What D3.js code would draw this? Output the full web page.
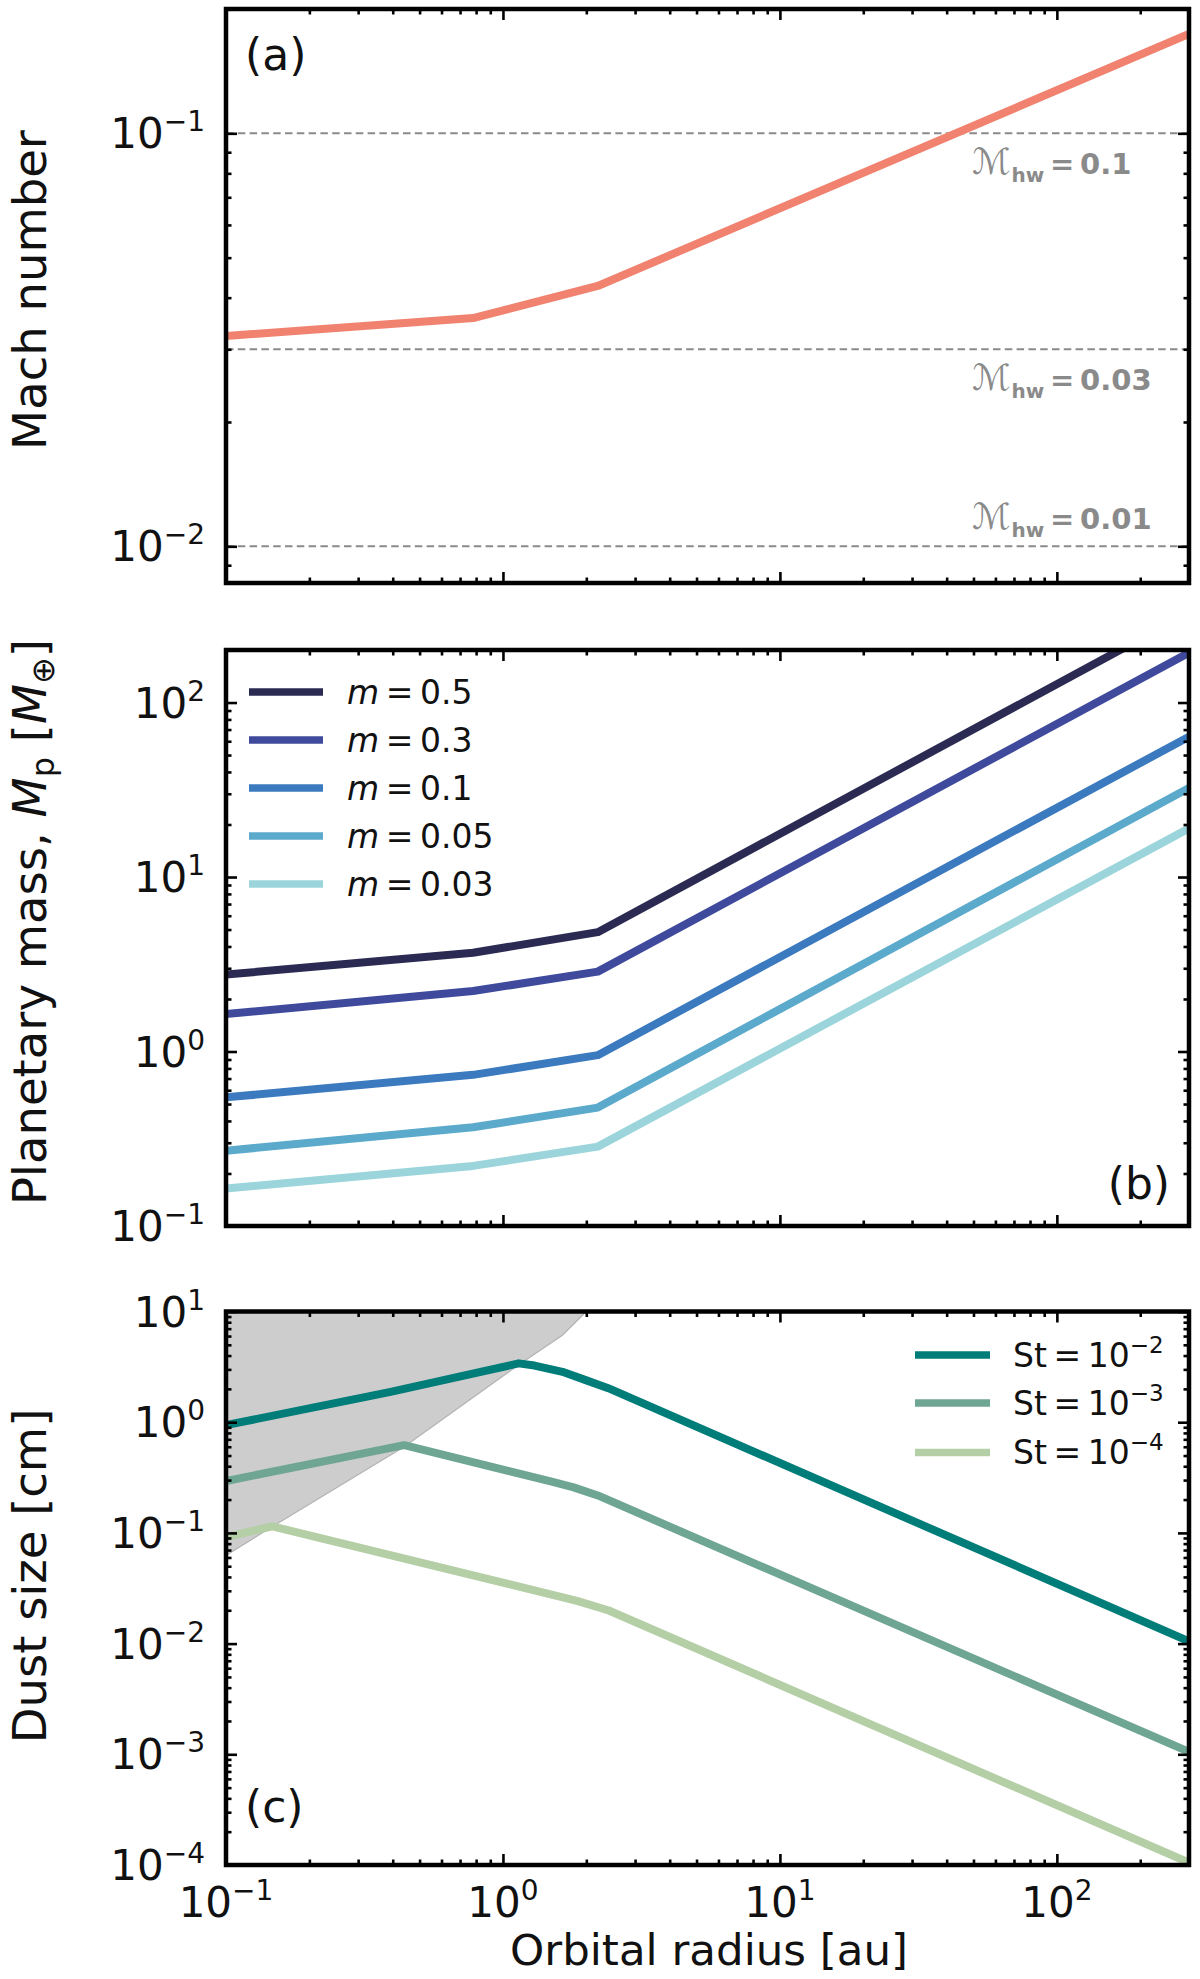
<!DOCTYPE html>
<html><head><meta charset="utf-8">
<script src="https://cdn.jsdelivr.net/npm/d3@7"></script>
<style>
body{margin:0;background:#fff}
svg{display:block}
text{font-family:"DejaVu Sans",sans-serif}
</style>
</head><body>
<svg id="chart" width="1200" height="1979"></svg>
<script>
// ---------------- data ----------------
const radiusBreaks = [0.1, 0.78, 2.2, 300];
const machValues   = [0.0323, 0.0357, 0.0427, 0.174];
const hwLevels = [0.1, 0.03, 0.01];
const hwLabels = ["0.1", "0.03", "0.01"];

const massLabels = ["0.5", "0.3", "0.1", "0.05", "0.03"];
const massM050 = [2.76, 3.68, 4.83, 327];
const massM030 = [1.64, 2.22, 2.87, 193];
const massM010 = [0.546, 0.735, 0.953, 63.7];
const massM005 = [0.270, 0.368, 0.477, 32.4];
const massM003 = [0.164, 0.221, 0.285, 19.0];
const massColors = ["#2b2a52", "#3f4a9c", "#3b7abf", "#5ba9cb", "#9bd5db"];

const dustExps = ["−2", "−3", "−4"];
const dustR1 = [0.1, 0.393, 1.14, 1.3, 1.64, 1.99, 2.4, 300];
const dustV1 = [0.94, 1.88, 3.40, 3.25, 2.85, 2.40, 2.03, 0.0105];
const dustR2 = [0.1, 0.44, 1.5, 1.8, 2.2, 300];
const dustV2 = [0.294, 0.62, 0.29, 0.258, 0.218, 0.00105];
const dustR3 = [0.1, 0.147, 1.5, 1.85, 2.41, 300];
const dustV3 = [0.0917, 0.1146, 0.0277, 0.0243, 0.0199, 0.000105];
const dustColors = ["#007c79", "#6fa593", "#b4cea6"];
const regimeR = [0.1, 0.147, 0.44, 1.14, 1.64, 2.0];
const regimeV = [0.0625, 0.114, 0.60, 3.3, 6.1, 10];

const xTickValues = [0.1, 1, 10, 100];
const xTickExps = ["−1", "0", "1", "2"];
const aTickValues = [0.01, 0.1];
const aTickExps = ["−2", "−1"];
const bTickValues = [0.1, 1, 10, 100];
const bTickExps = ["−1", "0", "1", "2"];
const cTickValues = [1e-4, 1e-3, 1e-2, 1e-1, 1, 10];
const cTickExps = ["−4", "−3", "−2", "−1", "0", "1"];

// ---------------- layout ----------------
const L = 226, R = 1189;
const TS = 42, SS = 28, RISE = 17;
const LAB = 46.5;
const svg = d3.select("#chart");
const x = d3.scaleLog().domain([0.1, 300]).range([L, R]);

function minors(domain) {
  const out = [];
  const lo = Math.floor(Math.log10(domain[0])), hi = Math.ceil(Math.log10(domain[1]));
  for (let e = lo; e <= hi; e++) for (let k = 2; k <= 9; k++) {
    const v = k * Math.pow(10, e);
    if (v >= domain[0] * 0.9999 && v <= domain[1] * 1.0001) out.push(v);
  }
  return out;
}

function panel(top, bottom, ydom, yTicks, yExps, id) {
  const y = d3.scaleLog().domain(ydom).range([bottom, top]);
  const g = svg.append("g");
  g.append("clipPath").attr("id", id).append("rect")
    .attr("x", L).attr("y", top).attr("width", R - L).attr("height", bottom - top);
  const body = g.append("g").attr("clip-path", `url(#${id})`);
  const axes = g.append("g");
  const add = (axis, tr) => {
    const a = axes.append("g").attr("transform", tr).call(axis);
    a.select(".domain").remove();
    a.selectAll("text").remove();
    a.selectAll("line").attr("stroke", "#000").attr("stroke-width", 2.6);
  };
  const xMin = minors(x.domain()), yMin = minors(y.domain());
  [[xTickValues, 11], [xMin, 5.5]].forEach(([vals, len]) => {
    add(d3.axisBottom(x).tickValues(vals).tickSizeInner(-len).tickSizeOuter(0), `translate(0,${bottom})`);
    add(d3.axisTop(x).tickValues(vals).tickSizeInner(-len).tickSizeOuter(0), `translate(0,${top})`);
  });
  [[yTicks, 11], [yMin, 5.5]].forEach(([vals, len]) => {
    add(d3.axisLeft(y).tickValues(vals).tickSizeInner(-len).tickSizeOuter(0), `translate(${L},0)`);
    add(d3.axisRight(y).tickValues(vals).tickSizeInner(-len).tickSizeOuter(0), `translate(${R},0)`);
  });
  axes.append("rect").attr("x", L).attr("y", top).attr("width", R - L).attr("height", bottom - top)
    .attr("fill", "none").attr("stroke", "#000").attr("stroke-width", 4.5);
  yTicks.forEach((v, i) => {
    const t = axes.append("text").attr("x", 205).attr("y", y(v) + 15)
      .attr("text-anchor", "end").attr("font-size", TS).attr("fill", "#111");
    t.append("tspan").text("10");
    t.append("tspan").attr("font-size", SS).attr("dy", -RISE).text(yExps[i]);
  });
  return {y, body, axes, g};
}

const line = (y) => d3.line().x(d => x(d[0])).y(d => y(d[1]));
const TH = "\u2009";

// ---------------- panel (a) ----------------
const A = panel(9, 583, [0.00815, 0.2], aTickValues, aTickExps, "clipA");
hwLevels.forEach((v) => {
  A.body.append("line").attr("x1", L).attr("x2", R).attr("y1", A.y(v)).attr("y2", A.y(v))
    .attr("stroke", "#8a8a8a").attr("stroke-width", 2).attr("stroke-dasharray", "7.5,4.3");
});
A.body.append("path").datum(d3.zip(radiusBreaks, machValues))
  .attr("d", line(A.y)).attr("fill", "none").attr("stroke", "#f0826f")
  .attr("stroke-width", 8).attr("stroke-linejoin", "round");
hwLevels.forEach((v, i) => {
  const yy = i < 2 ? A.y(v) + 41 : A.y(v) - 17;
  const t = A.axes.append("text").attr("x", 972).attr("y", yy).attr("fill", "#8a8a8a")
    .attr("font-size", 29).attr("font-weight", "bold");
  t.append("tspan").attr("font-size", 36).attr("font-weight", "normal").attr("font-style", "italic").text("ℳ");
  t.append("tspan").attr("font-size", 20).attr("dy", 8).attr("dx", 1).text("hw");
  t.append("tspan").attr("dy", -8).text(TH + "=" + TH + hwLabels[i]);
});
A.axes.append("text").attr("x", 245).attr("y", 70).attr("font-size", 44).attr("fill", "#111").text("(a)");
svg.append("text").attr("transform", "translate(46,290) rotate(-90)").attr("text-anchor", "middle")
  .attr("font-size", LAB).attr("fill", "#111").text("Mach number");

// ---------------- panel (b) ----------------
const B = panel(650, 1226, [0.1, 200], bTickValues, bTickExps, "clipB");
const massSeries = [massM050, massM030, massM010, massM005, massM003];
massSeries.forEach((s, i) => {
  B.body.append("path").datum(d3.zip(radiusBreaks, s)).attr("d", line(B.y))
    .attr("fill", "none").attr("stroke", massColors[i]).attr("stroke-width", 8)
    .attr("stroke-linejoin", "round");
});
const legB = [692, 740, 788, 836, 884];
massLabels.forEach((lab, i) => {
  B.axes.append("line").attr("x1", 249).attr("x2", 323).attr("y1", legB[i]).attr("y2", legB[i])
    .attr("stroke", massColors[i]).attr("stroke-width", 7.5);
  const t = B.axes.append("text").attr("x", 347).attr("y", legB[i] + 11.5).attr("font-size", 33).attr("fill", "#111");
  t.append("tspan").attr("font-style", "italic").text("m");
  t.append("tspan").text(TH + "=" + TH + lab);
});
B.axes.append("text").attr("x", 1170).attr("y", 1199).attr("text-anchor", "end")
  .attr("font-size", 44).attr("fill", "#111").text("(b)");
{
  const t = svg.append("text").attr("transform", "translate(46,922) rotate(-90)").attr("text-anchor", "middle")
    .attr("font-size", LAB).attr("fill", "#111");
  t.append("tspan").text("Planetary mass, ");
  t.append("tspan").attr("font-style", "italic").text("M");
  t.append("tspan").attr("font-size", 32).attr("dy", 8).text("p");
  t.append("tspan").attr("dy", -8).text(" [");
  t.append("tspan").attr("font-style", "italic").text("M");
  t.append("tspan").attr("font-size", 32).attr("dy", 8).text("⊕");
  t.append("tspan").attr("dy", -8).text("]");
}

// ---------------- panel (c) ----------------
const C = panel(1311.5, 1865, [1e-4, 10], cTickValues, cTickExps, "clipC");
const regimePoly = d3.zip(regimeR, regimeV).concat([[0.1, 10]]);
C.body.append("path").datum(regimePoly)
  .attr("d", d => line(C.y)(d) + "Z").attr("fill", "#cdcdcd").attr("stroke", "none");
C.body.append("path").datum(d3.zip(regimeR, regimeV)).attr("d", line(C.y))
  .attr("fill", "none").attr("stroke", "#b3b3b3").attr("stroke-width", 1.2);
const dustSeries = [[dustR1, dustV1], [dustR2, dustV2], [dustR3, dustV3]];
dustSeries.forEach(([r, v], i) => {
  C.body.append("path").datum(d3.zip(r, v)).attr("d", line(C.y))
    .attr("fill", "none").attr("stroke", dustColors[i]).attr("stroke-width", 8)
    .attr("stroke-linejoin", "round");
});
const legC = [1355, 1403, 1452.5];
dustExps.forEach((e, i) => {
  C.axes.append("line").attr("x1", 915).attr("x2", 990).attr("y1", legC[i]).attr("y2", legC[i])
    .attr("stroke", dustColors[i]).attr("stroke-width", 7.5);
  const t = C.axes.append("text").attr("x", 1013).attr("y", legC[i] + 11.5).attr("font-size", 33).attr("fill", "#111");
  t.append("tspan").text("St" + TH + "=" + TH + "10");
  t.append("tspan").attr("font-size", 23).attr("dy", -14).text(e);
});
C.axes.append("text").attr("x", 245).attr("y", 1822).attr("font-size", 44).attr("fill", "#111").text("(c)");
svg.append("text").attr("transform", "translate(46,1576) rotate(-90)").attr("text-anchor", "middle")
  .attr("font-size", LAB).attr("fill", "#111").text("Dust size [cm]");

// x tick labels
xTickValues.forEach((v, i) => {
  const t = svg.append("text").attr("x", x(v)).attr("y", 1917).attr("text-anchor", "middle")
    .attr("font-size", TS).attr("fill", "#111");
  t.append("tspan").text("10");
  t.append("tspan").attr("font-size", SS).attr("dy", -RISE).text(xTickExps[i]);
});
svg.append("text").attr("x", 709).attr("y", 1965).attr("text-anchor", "middle")
  .attr("font-size", 43.5).attr("fill", "#111").text("Orbital radius [au]");
</script>
</body></html>
